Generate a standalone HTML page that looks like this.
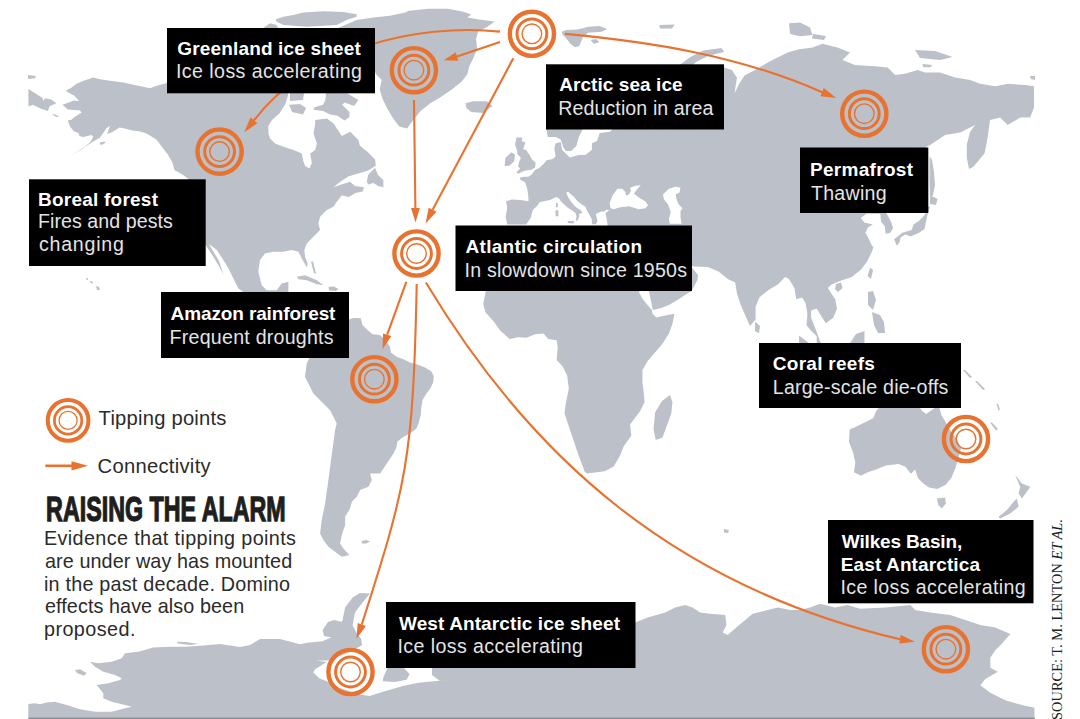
<!DOCTYPE html>
<html><head><meta charset="utf-8"><style>
html,body{margin:0;padding:0;background:#fff;width:1080px;height:719px;overflow:hidden}
svg{display:block}
text{font-family:"Liberation Sans",sans-serif}
.b{font-weight:bold;font-size:19px;fill:#fff}
.r{font-size:19.6px;fill:#e4e4e4}
.p{font-size:19.8px;fill:#2b2b2b}
.l{font-size:20.2px;fill:#2b2b2b}
</style></head><body>
<svg width="1080" height="719" viewBox="0 0 1080 719">
<rect width="1080" height="719" fill="#fff"/>
<g fill="#bcc1c9"><path d="M66.3 90.2 70.9 88.0 77.0 83.4 85.0 80.3 93.3 77.5 100.0 79.2 110.0 80.8 123.3 82.5 138.3 85.8 150.0 88.3 156.7 85.8 167.0 83.0 200.0 60.0 288.0 60.0 288.0 93.0 288.0 95.2 285.6 103.6 279.6 113.3 272.0 120.0 268.4 126.0 268.4 133.4 270.1 138.4 275.1 143.4 283.5 146.8 293.5 150.1 301.8 153.4 303.5 161.8 308.5 168.5 311.9 163.5 310.2 153.4 315.2 150.1 316.9 143.4 313.5 133.4 315.2 123.4 315.2 120.1 326.9 118.4 333.6 123.4 341.9 136.0 350.2 131.7 358.4 140.0 359.8 145.6 368.2 152.5 375.1 159.5 375.8 165.7 368.2 170.6 358.4 173.4 348.7 176.2 340.3 181.7 333.4 187.3 341.7 184.5 350.1 181.7 355.0 186.0 364.0 187.3 362.6 191.5 355.6 192.9 348.7 197.0 341.7 195.6 336.2 202.6 333.5 206.7 326.8 210.0 320.1 216.7 318.4 223.4 320.1 230.1 313.4 236.8 306.8 243.4 304.3 250.1 305.1 256.8 307.6 263.5 306.8 267.6 301.8 258.5 298.4 251.8 291.7 250.1 283.4 251.8 273.4 251.8 265.0 253.5 260.0 260.1 258.3 271.8 261.7 285.2 266.7 290.2 276.7 290.2 281.7 283.5 288.4 281.8 288.4 292.0 300.0 300.0 349.0 317.0 340.0 356.0 200.0 356.0 243.4 292.0 238.4 288.4 235.0 281.7 228.5 268.5 223.5 260.2 216.8 250.1 209.0 244.0 213.0 251.0 219.0 261.0 223.5 275.0 219.5 267.0 213.5 257.0 207.5 248.0 204.0 242.0 190.0 240.0 190.0 185.0 187.9 178.4 182.3 174.5 174.5 170.1 172.3 162.3 167.8 154.5 160.0 144.3 156.3 139.6 150.7 135.9 145.2 133.1 138.7 131.3 132.2 130.4 124.8 128.5 119.3 127.6 116.5 129.4 111.9 132.2 107.2 134.1 108.1 131.3 110.0 125.7 106.3 128.5 102.6 134.1 99.8 137.8 91.5 142.4 82.2 148.9 71.1 155.4 78.5 150.7 85.9 146.1 90.6 141.5 93.3 136.9 91.5 135.0 87.8 135.9 83.1 136.9 79.4 135.9 78.5 133.1 73.9 131.3 70.2 126.7 68.3 122.0 68.3 120.0 71.0 120.0 74.7 117.0 81.6 112.4 80.0 110.5 67.8 109.4 62.5 104.8 74.0 100.6 79.3 101.0 74.0 95.6 66.5 91.5Z"/><path d="M28.4 89.1 42.6 97.9 43.4 101.0 44.9 98.3 51.0 99.4 56.4 103.3 49.5 106.3 48.0 110.9 40.3 108.6 32.7 104.8 29.6 106.3 28.4 106.3Z"/><path d="M51.8 114.0 55.0 114.5 59.4 116.5 56.0 117.0Z"/><path d="M28.0 75.0 35.8 76.0 35.0 78.3 28.0 79.0Z"/><path d="M99.8 142.5 104.0 141.5 105.8 142.5 102.0 144.7 100.0 144.5Z"/><path d="M381.7 19.5 393.4 16.5 401.2 14.6 408.9 10.7 428.4 8.8 447.9 8.8 463.5 11.7 471.2 14.6 467.4 17.5 479.0 19.5 494.6 21.4 486.8 27.3 478.1 31.2 476.1 38.9 477.1 48.7 473.2 58.4 469.3 66.2 467.4 74.0 461.5 81.8 451.8 89.6 440.1 97.4 430.4 103.2 420.6 111.0 412.8 120.7 407.0 128.5 399.2 126.6 393.4 118.8 387.5 109.0 382.7 99.3 379.7 89.6 381.7 79.8 375.8 74.0 370.0 60.0 370.0 27.0 375.8 27.3Z"/><path d="M275.8 19.2 283.3 16.7 293.3 15.0 303.3 12.5 323.3 11.3 343.3 12.0 356.7 14.2 356.7 16.7 346.7 20.0 336.7 25.0 306.7 26.7 283.3 25.0 276.7 21.7Z"/><path d="M263.3 28.0 270.0 23.3 276.7 25.0 278.0 28.0Z"/><path d="M338.0 28.0 356.7 20.0 373.3 17.5 390.0 15.8 401.7 13.3 420.0 10.8 400.0 30.0 376.0 32.0 350.0 28.0Z"/><path d="M326.0 92.0 345.0 92.0 354.2 97.6 358.4 100.0 354.2 106.0 344.6 102.4 342.2 104.8 349.4 112.1 349.4 116.9 344.6 120.5 337.4 115.7 330.2 114.5 323.0 110.9 313.3 109.7 314.5 107.3 323.0 104.8 325.4 100.0Z"/><path d="M289.3 104.8 300.0 104.0 306.1 108.0 303.0 114.5 292.0 112.0Z"/><path d="M290.0 93.0 304.0 93.0 303.0 100.0 290.0 101.0Z"/><path d="M366.8 181.7 368.2 174.8 375.1 167.8 377.9 174.8 383.4 180.3 383.4 187.3 377.9 185.9 373.7 183.1 368.2 184.5Z"/><path d="M296.7 276.8 305.1 275.2 316.8 280.2 323.5 285.2 316.8 284.3 306.8 280.2 298.4 279.3Z"/><path d="M328.5 286.8 334.0 286.5 338.5 289.0 336.0 291.0 329.0 290.5Z"/><path d="M311.0 261.8 313.0 261.5 316.0 273.5 314.0 273.5Z"/><path d="M349.0 317.0 349.2 319.2 353.3 317.9 360.8 318.3 362.5 325.0 366.7 329.2 372.5 334.2 380.0 335.0 386.7 341.7 390.0 346.7 390.9 352.5 396.7 356.7 403.4 359.2 410.0 362.5 417.5 364.4 425.0 367.5 431.3 371.3 433.8 376.3 433.2 382.5 430.1 388.8 426.3 393.8 422.6 400.0 421.3 407.6 420.7 415.1 418.8 422.6 416.3 428.8 411.3 432.6 402.5 437.6 397.5 441.4 396.3 447.6 393.5 453.4 386.8 463.4 380.2 473.4 370.1 473.4 371.8 480.1 368.5 486.8 360.1 490.1 356.8 496.8 351.8 501.8 350.1 508.5 345.1 516.8 345.1 525.2 343.4 530.0 341.8 535.0 340.1 543.4 343.4 548.4 349.3 555.0 341.8 556.7 335.1 551.7 328.4 546.7 323.4 540.0 320.1 533.5 321.7 520.1 325.1 503.5 328.4 480.1 331.7 455.0 335.1 430.0 336.7 423.5 330.1 410.2 313.4 393.5 305.0 376.8 306.7 363.4 313.4 350.1 320.0 343.4 330.0 330.0 340.0 320.0Z"/><path d="M361.8 541.0 366.0 540.0 370.1 541.5 366.0 543.5 362.0 543.5Z"/><path d="M28.3 719.0 28.3 704.0 35.0 703.3 40.0 704.2 46.7 702.5 55.0 701.7 66.7 705.0 80.0 709.2 95.0 711.7 111.7 711.7 125.0 708.3 131.7 706.7 125.0 705.0 111.7 701.7 103.3 698.3 103.3 693.3 96.7 685.0 108.3 683.3 120.0 680.0 121.7 678.3 115.0 675.0 103.3 671.7 95.0 666.7 90.0 661.7 98.3 663.3 111.7 661.7 121.7 658.3 125.0 653.3 138.3 651.7 153.3 647.5 170.0 646.7 185.0 646.7 200.0 645.8 220.0 644.0 240.0 647.0 250.0 645.0 260.0 639.0 280.0 639.0 300.0 644.3 307.4 642.8 322.2 641.3 330.1 638.0 337.6 632.6 342.6 620.1 345.1 607.6 352.6 597.6 360.0 593.0 370.0 593.4 362.6 602.6 355.0 612.6 352.6 625.2 356.3 632.6 361.3 638.9 362.0 645.0 359.0 647.0 350.0 652.0 340.0 656.0 329.6 660.6 316.3 660.6 326.7 662.0 314.8 669.4 313.3 672.4 319.3 678.3 326.7 681.3 340.0 688.0 359.3 694.6 369.6 696.1 383.0 691.7 403.7 685.7 418.5 682.8 433.3 681.3 451.1 679.8 455.0 668.0 470.0 640.0 635.0 622.6 647.6 617.6 665.1 612.6 675.1 607.6 685.1 605.1 692.6 607.6 700.2 612.6 710.2 613.8 725.2 615.1 726.5 625.1 722.7 632.6 727.7 635.1 737.7 626.3 752.7 613.8 762.8 611.3 777.8 607.6 790.3 610.1 800.0 610.0 810.0 607.6 820.0 603.8 835.0 607.6 847.6 605.1 860.1 608.8 885.1 607.6 910.2 605.1 915.2 610.1 930.2 612.6 950.3 615.1 965.3 620.1 980.3 625.1 995.3 627.6 1010.4 633.9 1000.4 645.2 995.3 650.2 990.3 657.7 990.3 667.7 997.8 671.7 985.3 679.0 980.3 685.3 990.3 692.8 1005.3 700.3 1022.9 705.3 1034.5 707.8 1034.5 719.0Z"/><path d="M75.0 670.0 80.0 669.2 86.7 673.0 84.0 675.8 77.0 673.0Z"/><path d="M322.6 630.0 328.0 622.0 334.0 620.0 342.6 622.0 340.0 632.0 332.0 637.6 324.0 636.0Z"/><path d="M387.4 668.0 403.7 668.0 409.6 673.9 406.7 679.8 394.8 682.0 383.0 681.3 383.0 678.3Z"/><path d="M432.0 668.0 460.0 668.0 460.0 680.0 440.0 681.0 432.0 675.0Z"/><path d="M176.7 641.7 186.0 642.0 198.3 644.0 190.0 645.0 178.0 643.5Z"/><path d="M490.0 250.0 692.0 250.0 692.0 268.0 694.0 270.0 698.0 275.0 697.5 280.0 691.3 291.3 685.0 295.0 677.5 300.0 668.8 305.0 661.3 308.1 653.0 310.0 652.5 308.8 650.6 298.8 648.8 291.0 640.0 291.0 638.8 292.0 642.5 298.8 647.5 305.0 651.9 310.0 652.5 313.8 656.3 317.5 665.0 315.6 674.4 313.8 672.5 323.8 668.8 333.8 662.5 343.8 655.0 352.5 647.5 361.3 642.5 370.0 642.4 382.0 644.0 394.8 644.6 402.2 640.2 411.1 630.1 424.5 631.3 435.6 623.5 446.7 620.1 455.6 613.5 466.8 604.6 471.2 586.8 473.4 584.5 471.2 577.9 453.4 571.2 433.4 564.5 413.4 565.6 404.4 568.8 388.4 567.2 375.6 562.4 366.0 556.6 360.0 557.8 347.4 556.6 340.2 548.2 339.0 543.4 333.5 535.0 334.2 526.6 337.8 518.1 337.2 509.7 339.0 500.1 330.5 494.1 322.1 485.6 312.5 483.2 304.1 485.6 292.0Z"/><path d="M672.4 402.2 671.3 413.4 662.4 437.8 655.7 440.0 653.5 428.9 655.2 412.0 662.0 401.0 670.0 395.0Z"/><path d="M724.0 529.0 729.0 530.0 728.0 533.0 724.0 532.5Z"/><path d="M506.1 201.2 511.7 199.6 520.6 200.1 528.4 201.2 528.4 196.8 527.3 189.0 525.1 182.3 520.6 180.1 519.5 177.8 524.0 176.7 528.4 176.7 531.7 174.5 535.1 170.0 539.5 167.8 545.1 162.2 546.5 160.2 553.0 158.9 555.6 156.3 554.3 148.5 555.6 143.3 560.8 142.0 562.0 149.8 565.9 153.7 569.8 157.6 578.9 155.0 585.4 155.0 591.9 149.8 591.9 143.3 597.1 140.8 599.7 133.0 610.0 131.7 612.6 129.0 582.8 129.0 578.9 136.9 576.3 145.9 571.1 151.1 565.9 151.1 563.3 147.2 560.8 139.5 555.6 136.9 547.8 136.9 546.5 130.0 550.0 66.0 720.0 66.0 724.1 67.4 731.9 70.0 737.0 77.8 734.5 93.3 739.6 83.0 744.8 75.2 755.2 70.0 768.2 62.2 778.5 57.0 788.9 51.9 799.3 49.3 812.5 47.5 822.5 43.8 837.5 47.5 850.0 52.5 842.5 60.0 855.0 65.0 875.0 66.3 887.6 67.6 895.1 75.1 905.1 73.8 917.6 70.1 925.1 72.6 940.1 72.6 955.2 77.6 970.2 80.1 980.2 83.8 995.2 86.3 1007.7 83.8 1025.2 85.1 1034.0 86.3 1034.0 107.6 1030.2 117.6 1020.2 117.6 1007.7 125.1 1000.2 117.6 990.0 120.0 988.0 135.0 986.8 142.2 984.6 153.3 973.5 166.7 969.0 168.9 966.8 157.8 966.8 144.4 970.0 132.0 975.0 125.0 960.2 132.6 945.1 135.1 930.1 145.1 920.1 150.1 917.0 147.0 915.0 170.0 915.0 205.0 920.0 212.0 886.0 213.0 887.6 215.2 891.3 222.6 893.1 228.1 890.4 232.8 885.7 233.7 884.8 226.3 881.1 221.7 880.2 213.8 866.3 213.8 860.7 218.0 864.4 222.6 872.8 224.4 868.1 227.2 865.4 232.8 868.1 237.4 871.9 245.7 873.4 246.8 872.2 251.1 866.7 262.2 861.1 269.6 851.9 277.0 840.7 280.7 831.5 284.4 827.8 288.1 835.2 299.3 837.0 308.5 833.3 317.8 825.9 323.3 822.2 317.8 816.7 308.5 811.1 310.4 811.1 317.8 814.8 327.0 820.4 341.9 821.0 343.0 816.7 343.0 816.7 336.3 811.1 330.7 806.5 325.2 807.4 314.1 805.6 303.0 801.9 297.4 796.3 299.3 794.4 288.1 788.9 278.9 785.2 277.0 777.8 284.4 768.5 290.0 759.3 297.4 755.6 306.7 755.6 319.6 750.0 326.1 746.3 317.8 740.7 304.8 737.0 293.7 735.2 282.6 727.8 278.9 718.5 271.5 707.8 267.1 693.9 266.4 692.0 266.0 680.0 240.0 660.0 230.0 611.0 230.0 607.6 225.5 606.7 218.9 605.5 213.0 609.6 210.1 606.6 209.7 604.2 211.5 601.2 211.5 598.2 212.7 595.8 213.9 597.6 221.1 595.8 224.2 592.2 224.2 591.6 218.7 588.6 213.3 586.7 210.3 585.5 206.7 581.3 204.3 577.1 200.7 574.1 197.0 570.5 194.0 568.1 191.6 566.3 192.8 568.1 197.0 570.5 200.7 574.1 205.5 577.1 207.9 580.7 210.3 582.5 212.7 578.9 213.9 579.5 216.3 577.1 221.1 575.9 220.5 576.5 216.3 575.3 212.7 571.7 210.3 568.1 207.9 563.9 204.3 560.8 201.3 559.6 198.9 556.6 197.0 553.6 198.3 550.0 200.1 544.0 201.2 539.5 202.3 537.3 205.7 532.9 210.1 530.6 217.9 526.2 224.6 507.2 224.6 505.6 216.8 507.2 207.9Z"/><path d="M516.5 137.4 522.4 137.4 521.7 141.1 525.4 142.6 523.1 149.3 526.1 150.0 529.8 155.2 532.0 159.6 535.7 162.6 535.0 167.8 530.6 170.0 524.6 170.7 518.0 173.7 516.5 172.2 520.2 168.5 518.0 166.3 519.4 161.1 520.9 158.1 517.2 153.7 517.2 150.7 515.0 144.8Z"/><path d="M505.4 158.1 511.3 152.2 515.0 154.4 514.3 161.1 509.8 165.6 504.6 166.3Z"/><path d="M465.4 103.2 473.2 101.2 486.8 101.2 492.7 106.1 482.9 112.9 471.2 112.0 466.4 108.1Z"/><path d="M561.7 31.7 566.1 30.0 577.2 29.4 582.8 28.3 588.3 32.8 582.8 37.2 579.4 46.1 575.0 47.2 570.6 43.9 566.1 38.3 562.8 35.0Z"/><path d="M582.8 28.3 588.3 26.7 599.4 26.1 607.2 28.9 601.7 31.7 588.3 32.8Z"/><path d="M590.6 40.0 596.0 38.9 599.4 42.0 594.0 43.9Z"/><path d="M813.0 34.0 826.0 36.0 824.0 40.0 812.0 38.5Z"/><path d="M922.5 64.0 932.5 65.0 930.0 67.5 923.0 67.0Z"/><path d="M1030.0 76.0 1035.0 76.0 1035.0 80.0 1031.0 79.0Z"/><path d="M659.3 25.0 674.8 24.6 672.0 28.5 660.0 28.5Z"/><path d="M680.0 64.8 690.4 57.0 703.3 50.6 721.5 48.0 724.1 51.9 708.5 55.7 695.6 62.2 690.0 68.0Z"/><path d="M789.0 23.3 800.0 22.5 810.0 27.5 812.5 35.0 800.0 36.3 790.0 34.0Z"/><path d="M915.0 50.0 935.0 51.0 952.6 57.0 940.0 60.0 920.0 58.0Z"/><path d="M755.1 321.4 760.0 326.0 759.0 333.2 755.0 331.0Z"/><path d="M894.1 239.3 902.4 232.8 911.7 230.0 913.5 224.4 919.1 220.7 922.8 217.0 925.6 213.8 927.7 206.0 930.0 207.0 927.4 215.2 925.6 223.5 924.6 229.1 919.1 232.8 910.7 236.5 905.2 234.6 900.6 237.4 899.6 242.0 896.9 245.7Z"/><path d="M929.5 156.0 932.0 160.0 934.0 172.0 935.0 185.0 933.0 195.0 930.0 198.0 929.5 180.0Z"/><path d="M930.0 195.0 937.5 199.0 936.0 205.0 930.0 204.0Z"/><path d="M870.0 267.8 873.1 270.0 871.0 278.9 867.6 276.0Z"/><path d="M836.0 284.0 841.0 282.6 842.6 288.0 838.0 291.9 835.0 289.0Z"/><path d="M868.0 292.0 873.0 291.0 876.0 300.0 873.0 310.0 868.0 305.0Z"/><path d="M872.0 312.0 880.0 315.0 884.0 322.0 885.0 333.0 878.0 333.0 874.0 325.0Z"/><path d="M799.0 335.6 809.0 343.0 799.0 343.0Z"/><path d="M850.0 343.0 856.0 334.0 864.5 331.0 864.5 343.0Z"/><path d="M849.7 429.2 849.0 441.7 853.2 452.9 855.3 462.6 853.9 472.3 860.9 475.8 867.8 472.3 876.2 469.5 885.9 465.4 898.4 464.0 905.4 466.8 910.9 473.7 915.1 469.5 917.9 477.9 923.4 483.4 929.0 487.6 937.4 489.0 945.7 484.8 951.3 477.9 955.4 468.2 958.2 458.4 961.0 448.7 956.8 438.9 951.3 432.0 945.7 422.3 941.5 415.3 938.7 405.0 930.4 411.1 926.2 413.9 922.1 411.1 917.9 405.0 881.7 405.0 876.2 411.1 873.4 418.1 865.0 422.3 853.9 427.8Z"/><path d="M990.0 422.6 992.0 422.6 998.0 429.0 996.0 430.5Z"/><path d="M996.5 403.8 998.0 403.8 1000.0 410.0 998.5 410.5Z"/><path d="M963.0 370.0 965.0 370.0 972.0 377.0 970.0 378.0Z"/><path d="M975.0 381.0 977.0 381.0 985.0 389.0 983.0 390.0Z"/><path d="M936.8 498.4 945.1 497.6 945.9 503.4 941.8 508.4 938.4 505.1Z"/><path d="M1015.2 475.1 1021.9 483.4 1030.2 486.7 1026.9 491.8 1021.9 498.4 1018.6 493.4 1020.2 486.7Z"/><path d="M1016.9 498.4 1018.6 506.8 1010.2 513.5 1000.2 518.5 998.5 516.8 1006.9 510.1 1013.6 501.8Z"/><path d="M870.0 343.0 960.0 343.0 960.0 400.0 870.0 400.0Z"/><path d="M555.4 210.3 558.4 210.3 558.4 216.3 555.7 216.3Z"/><path d="M556.0 203.1 557.8 203.1 557.8 207.3 556.0 207.3Z"/><path d="M567.5 221.1 574.1 221.1 573.5 223.6 568.1 223.0Z"/><path d="M96.0 286.0 99.0 287.0 100.0 290.0 97.0 290.0Z"/><path d="M86.0 278.0 88.0 278.5 88.0 280.0 86.0 279.5Z"/><path d="M90.0 281.0 93.0 282.0 93.0 283.5 90.0 282.5Z"/><g fill="#fff"><path d="M609.6 203.3 612.5 195.5 617.4 188.7 622.2 188.7 625.1 191.7 626.1 195.5 629.0 194.6 631.0 190.7 630.0 187.8 635.8 185.8 640.7 185.3 636.8 189.7 633.9 193.6 638.7 197.5 645.5 201.4 648.0 205.3 645.5 208.2 638.7 209.2 629.0 206.2 620.3 207.2 613.5 209.2 610.5 208.2Z"/><path d="M663.0 194.6 668.9 188.7 675.7 186.8 680.5 187.8 679.5 192.6 675.7 194.6 676.6 199.4 678.6 204.3 682.5 208.2 680.5 211.1 680.5 216.9 681.5 223.7 669.8 223.7 668.9 218.9 670.8 212.1 667.9 204.3 664.0 199.4Z"/><path d="M302.0 152.0 306.0 151.0 311.0 160.0 310.0 168.0 305.0 166.0 303.0 158.0Z"/></g></g>
<rect x="28.5" y="717.6" width="1006.3" height="1.4" fill="#8a8d92"/>
<path d="M500 31.6 C416.8 22.9 308 49.2 254 120.4" fill="none" stroke="#e8722f" stroke-width="2.1"/><path d="M244.2 132.2L250.6 117.6L257.4 123.2Z" fill="#e8722f"/><path d="M500 41.9 L457 56.5" fill="none" stroke="#e8722f" stroke-width="2.1"/><path d="M443.7 60.3L455.8 52.3L458.2 60.7Z" fill="#e8722f"/><path d="M513.3 58.2 L432.6 209.7" fill="none" stroke="#e8722f" stroke-width="2.1"/><path d="M425.6 223.4L428.7 207.7L436.5 211.7Z" fill="#e8722f"/><path d="M565 33.9 C648.8 41.8 737.1 54.7 822.1 92.2" fill="none" stroke="#e8722f" stroke-width="2.1"/><path d="M836.2 98.0L820.4 96.3L823.8 88.1Z" fill="#e8722f"/><path d="M414 100 L415.4 208" fill="none" stroke="#e8722f" stroke-width="2.1"/><path d="M415.5 222.6L411.0 208.0L419.8 208.0Z" fill="#e8722f"/><path d="M406.3 281.9 L387.2 334.7" fill="none" stroke="#e8722f" stroke-width="2.1"/><path d="M382.6 349.1L383.0 333.4L391.4 336.0Z" fill="#e8722f"/><path d="M416.7 284 C413.2 462.6 405.9 486.0 361.8 624.5" fill="none" stroke="#e8722f" stroke-width="2.1"/><path d="M356.5 638.7L357.7 623.0L365.9 626.0Z" fill="#e8722f"/><path d="M425.9 282.5 C531.3 458.2 675.6 586.5 900 639.3" fill="none" stroke="#e8722f" stroke-width="2.1"/><path d="M915.0 641.7L899.3 643.6L900.7 635.0Z" fill="#e8722f"/>
<g transform="translate(531.9,33.8) scale(1.0)" fill="none" stroke="#e8722f"><circle r="22.1" stroke-width="4.4"/><circle r="14.9" stroke-width="3.0"/><circle r="9.8" stroke-width="1.4"/></g><g transform="translate(413.9,70.2) scale(1.0)" fill="none" stroke="#e8722f"><circle r="22.1" stroke-width="4.4"/><circle r="14.9" stroke-width="3.0"/><circle r="9.8" stroke-width="1.4"/></g><g transform="translate(219.6,151.6) scale(1.0)" fill="none" stroke="#e8722f"><circle r="22.1" stroke-width="4.4"/><circle r="14.9" stroke-width="3.0"/><circle r="9.8" stroke-width="1.4"/></g><g transform="translate(864.3,113.7) scale(1.0)" fill="none" stroke="#e8722f"><circle r="22.1" stroke-width="4.4"/><circle r="14.9" stroke-width="3.0"/><circle r="9.8" stroke-width="1.4"/></g><g transform="translate(416.5,253.5) scale(1.0)" fill="none" stroke="#e8722f"><circle r="22.1" stroke-width="4.4"/><circle r="14.9" stroke-width="3.0"/><circle r="9.8" stroke-width="1.4"/></g><g transform="translate(374.4,379.2) scale(1.0)" fill="none" stroke="#e8722f"><circle r="22.1" stroke-width="4.4"/><circle r="14.9" stroke-width="3.0"/><circle r="9.8" stroke-width="1.4"/></g><g transform="translate(966,439) scale(1.0)" fill="none" stroke="#e8722f"><circle r="22.1" stroke-width="4.4"/><circle r="14.9" stroke-width="3.0"/><circle r="9.8" stroke-width="1.4"/></g><g transform="translate(350.5,672) scale(1.0)" fill="none" stroke="#e8722f"><circle r="22.1" stroke-width="4.4"/><circle r="14.9" stroke-width="3.0"/><circle r="9.8" stroke-width="1.4"/></g><g transform="translate(945.9,649.2) scale(1.0)" fill="none" stroke="#e8722f"><circle r="22.1" stroke-width="4.4"/><circle r="14.9" stroke-width="3.0"/><circle r="9.8" stroke-width="1.4"/></g>
<rect x="167" y="28" width="208.0" height="65.3" fill="#000"/><text x="177.20" y="55" class="b" textLength="183.60" lengthAdjust="spacing">Greenland ice sheet</text><text x="176.00" y="78.1" class="r" textLength="186.00" lengthAdjust="spacing">Ice loss accelerating</text><rect x="546" y="64.3" width="178.0" height="65.2" fill="#000"/><text x="559.20" y="91.4" class="b" textLength="123.40" lengthAdjust="spacing">Arctic sea ice</text><text x="558.20" y="115.1" class="r" textLength="155.20" lengthAdjust="spacing">Reduction in area</text><rect x="800" y="147.5" width="128.3" height="65.5" fill="#000"/><text x="810.00" y="175.8" class="b" textLength="103.00" lengthAdjust="spacing">Permafrost</text><text x="811.00" y="199.5" class="r" textLength="75.60" lengthAdjust="spacing">Thawing</text><rect x="29" y="179.3" width="176.7" height="86.7" fill="#000"/><text x="38.00" y="205.6" class="b" textLength="120.00" lengthAdjust="spacing">Boreal forest</text><text x="38.00" y="228.20000000000002" class="r" textLength="134.80" lengthAdjust="spacing">Fires and pests</text><text x="39.00" y="251.4" class="r" textLength="84.80" lengthAdjust="spacing">changing</text><rect x="455.5" y="225.5" width="236.5" height="65.5" fill="#000"/><text x="465.50" y="253" class="b" textLength="176.50" lengthAdjust="spacing">Atlantic circulation</text><text x="464.50" y="277.05" class="r" textLength="222.50" lengthAdjust="spacing">In slowdown since 1950s</text><rect x="161" y="292" width="188.0" height="66.0" fill="#000"/><text x="170.60" y="320.2" class="b" textLength="164.80" lengthAdjust="spacing">Amazon rainforest</text><text x="169.60" y="344.40000000000003" class="r" textLength="164.00" lengthAdjust="spacing">Frequent droughts</text><rect x="759" y="343" width="202.0" height="65.0" fill="#000"/><text x="772.80" y="370.1" class="b" textLength="102.00" lengthAdjust="spacing">Coral reefs</text><text x="772.80" y="394.40000000000003" class="r" textLength="175.60" lengthAdjust="spacing">Large-scale die-offs</text><rect x="828" y="520" width="205.5" height="83.3" fill="#000"/><text x="841.80" y="548.1" class="b" textLength="120.40" lengthAdjust="spacing">Wilkes Basin,</text><text x="840.80" y="570.7" class="b" textLength="139.20" lengthAdjust="spacing">East Antarctica</text><text x="840.40" y="594.3" class="r" textLength="185.30" lengthAdjust="spacing">Ice loss accelerating</text><rect x="386" y="602" width="249.5" height="66.0" fill="#000"/><text x="399.00" y="630" class="b" textLength="221.00" lengthAdjust="spacing">West Antarctic ice sheet</text><text x="397.50" y="652.8" class="r" textLength="185.50" lengthAdjust="spacing">Ice loss accelerating</text>
<g transform="translate(68.1,420.4) scale(0.92)" fill="none" stroke="#e8722f"><circle r="22.1" stroke-width="4.4"/><circle r="14.9" stroke-width="3.0"/><circle r="9.8" stroke-width="1.4"/></g>
<path d="M45.3 465.8 L74 465.8" stroke="#e8722f" stroke-width="2.6"/>
<path d="M88 465.8 L71.5 461.2 L71.5 470.4Z" fill="#e8722f"/>
<text x="98.60" y="424.6" class="l" textLength="127.80" lengthAdjust="spacing">Tipping points</text>
<text x="97.60" y="472.5" class="l" textLength="113.00" lengthAdjust="spacing">Connectivity</text>
<text transform="translate(46.1 521.3) scale(0.65 1)" x="0" y="0" style="font-weight:bold;font-size:35.8px;fill:#1e1e1e;stroke:#1e1e1e;stroke-width:1.3px">RAISING THE ALARM</text>
<text x="44.00" y="544.9" class="p" textLength="252.00" lengthAdjust="spacing">Evidence that tipping points</text><text x="45.00" y="567.6999999999999" class="p" textLength="247.20" lengthAdjust="spacing">are under way has mounted</text><text x="44.00" y="590.8" class="p" textLength="246.00" lengthAdjust="spacing">in the past decade. Domino</text><text x="45.00" y="613.4" class="p" textLength="199.20" lengthAdjust="spacing">effects have also been</text><text x="44.00" y="635.6999999999999" class="p" textLength="91.40" lengthAdjust="spacing">proposed.</text>
<text transform="translate(1061.5 720) rotate(-90)" textLength="201" lengthAdjust="spacing" style="font-family:'Liberation Serif',serif;font-size:14.4px;fill:#222">SOURCE: T. M. LENTON <tspan font-style="italic">ET AL.</tspan></text>
</svg>
</body></html>
